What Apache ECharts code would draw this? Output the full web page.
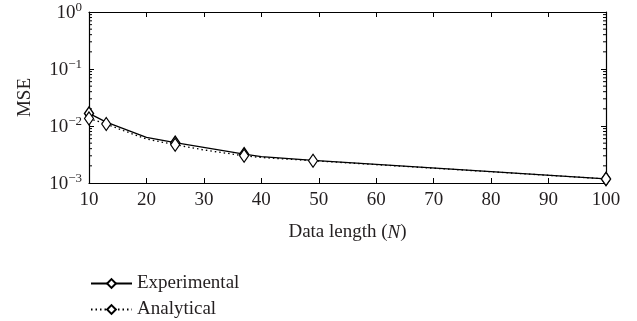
<!DOCTYPE html>
<html>
<head>
<meta charset="utf-8">
<script src="https://cdn.jsdelivr.net/npm/echarts@6/dist/echarts.min.js"></script>
<style>
html,body{margin:0;padding:0;background:#fff;}
#chart{width:637px;height:321px;}
</style>
</head>
<body>
<div id="chart"></div>
<script>
// Data
var expN   = [10, 13, 20, 25, 37, 40, 49, 100];
var expMSE = [0.0166, 0.0117, 0.0063, 0.0051, 0.0032, 0.0029, 0.0025, 0.00118];
var expMarker = [true, false, false, true, true, false, false, true];

var anaN   = [10, 13, 16, 20, 25, 30, 37, 40, 49, 100];
var anaMSE = [0.0136, 0.0108, 0.0083, 0.0059, 0.0047, 0.0038, 0.0030, 0.0028, 0.00246, 0.00118];
var anaMarker = [true, true, false, false, true, false, true, false, true, true];

var xTicks = [10, 20, 30, 40, 50, 60, 70, 80, 90, 100];
var yTicks = [0.001, 0.01, 0.1, 1];
var minorTickValues = [];
[0.001, 0.01, 0.1].forEach(function (d) {
  for (var k = 2; k <= 9; k++) minorTickValues.push(+(d * k).toPrecision(3));
});

var FONT = '"Liberation Serif", "DejaVu Serif", serif';
var FS = 19;
var TXT = '#231f20';

function buildData(xs, ys, marks) {
  return xs.map(function (x, i) {
    var item = { value: [x, ys[i]] };
    if (!marks[i]) item.symbol = 'none';
    return item;
  });
}

var chart = echarts.init(document.getElementById('chart'), null, { renderer: 'canvas' });

var axisCommon = {
  axisLine: { show: true, lineStyle: { color: '#000', width: 1.2 } },
  splitLine: { show: false }
};

function legendCfg(name, top) {
  return {
    orient: 'horizontal',
    left: 90,
    top: top,
    itemWidth: 41,
    itemHeight: 11,
    padding: 0,
    textStyle: { fontFamily: FONT, fontSize: FS, color: TXT },
    data: [{ name: name }]
  };
}

var option = {
  animation: false,
  backgroundColor: '#fff',
  grid: { left: 89, top: 12, right: 31, bottom: 138, containLabel: false },
  legend: [legendCfg('Experimental', 274), legendCfg('Analytical', 300)],
  xAxis: [
    Object.assign({}, axisCommon, {
      type: 'value', min: 10, max: 100, interval: 10, position: 'bottom',
      axisTick: { show: true, inside: true, length: 5, lineStyle: { color: '#000' } },
      axisLabel: { fontFamily: FONT, fontSize: FS, color: TXT, margin: 8,
        formatter: function (v) { return xTicks.indexOf(v) >= 0 ? String(v) : ''; } },
      name: '{t|Data length (}{i|N}{t|)}',
      nameLocation: 'middle', nameGap: 40,
      nameTextStyle: { rich: {
        t: { fontFamily: FONT, fontSize: FS, color: TXT },
        i: { fontFamily: FONT, fontSize: FS, color: TXT, fontStyle: 'italic' }
      } }
    }),
    Object.assign({}, axisCommon, {
      type: 'value', min: 10, max: 100, interval: 10, position: 'top',
      axisTick: { show: true, inside: true, length: 5, lineStyle: { color: '#000' } },
      axisLabel: { show: false }
    })
  ],
  yAxis: [
    Object.assign({}, axisCommon, {
      type: 'log', logBase: 10, min: yTicks[0], max: yTicks[yTicks.length - 1], position: 'left',
      axisTick: { show: true, inside: true, length: 5, lineStyle: { color: '#000' } },
      axisLabel: {
        margin: 7,
        formatter: function (v) {
          var e = Math.round(Math.log10(v));
          return '{b|10}{s|' + (e < 0 ? '\u2212' + (-e) : e) + '}';
        },
        rich: {
          b: { fontFamily: FONT, fontSize: FS, color: TXT, lineHeight: 22, padding: [3, 0, 0, 0] },
          s: { fontFamily: FONT, fontSize: 13, color: TXT, verticalAlign: 'top', lineHeight: 22, padding: [0, 0, 8, 0] }
        }
      },
      name: 'MSE', nameLocation: 'middle', nameGap: 54, nameRotate: 90,
      nameTextStyle: { fontFamily: FONT, fontSize: FS, color: TXT }
    }),
    Object.assign({}, axisCommon, {
      type: 'log', logBase: 10, min: yTicks[0], max: yTicks[yTicks.length - 1], position: 'right',
      axisTick: { show: true, inside: true, length: 5, lineStyle: { color: '#000' } },
      axisLabel: { show: false }
    })
  ],
  series: [
    {
      name: 'Experimental', type: 'line',
      xAxisIndex: 0, yAxisIndex: 0,
      data: buildData(expN, expMSE, expMarker),
      symbol: 'diamond', symbolSize: [9, 13], showAllSymbol: true,
      lineStyle: { color: '#000', width: 1.3, type: 'solid' },
      itemStyle: { color: '#fff', borderColor: '#000', borderWidth: 1.5 },
      z: 3
    },
    {
      name: 'Analytical', type: 'line',
      xAxisIndex: 0, yAxisIndex: 0,
      data: buildData(anaN, anaMSE, anaMarker),
      symbol: 'diamond', symbolSize: [9, 13], showAllSymbol: true,
      lineStyle: { color: '#000', width: 1.3, type: [1.5, 3] },
      itemStyle: { color: '#fff', borderColor: '#000', borderWidth: 1.2 },
      z: 4
    },
    {
      name: 'minorTicks', type: 'custom',
      xAxisIndex: 0, yAxisIndex: 0,
      silent: true,
      data: minorTickValues.map(function (v) { return [10, v]; }),
      renderItem: function (params, api) {
        var v = api.value(1);
        var pl = api.coord([10, v]);
        var pr = api.coord([100, v]);
        return {
          type: 'group',
          children: [
            { type: 'line', shape: { x1: pl[0], y1: pl[1], x2: pl[0] + 3, y2: pl[1] },
              style: { stroke: '#000', lineWidth: 1 } },
            { type: 'line', shape: { x1: pr[0], y1: pr[1], x2: pr[0] - 3, y2: pr[1] },
              style: { stroke: '#000', lineWidth: 1 } }
          ]
        };
      },
      z: 2
    }
  ]
};

chart.setOption(option);
</script>
</body>
</html>
